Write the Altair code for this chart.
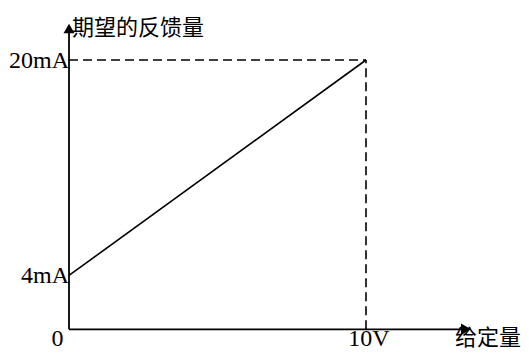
import altair as alt
import pandas as pd

# ---- data ----
line_x = [0, 10]          # 给定量 (V)
line_y = [4, 20]          # 期望的反馈量 (mA)
x_labels = ["0", "10V"]
x_label_vals = [0, 10]
y_labels = ["4mA", "20mA"]
y_label_vals = [4, 20]
x_end = 13.2              # x-axis arrow extent (V units)
y_end = 22.0              # y-axis arrow extent (mA units)
x_title = "给定量"
y_title = "期望的反馈量"

W, H = 513, 342
xs = alt.Scale(domain=[-2.0539, 15.2189], nice=False, zero=False)
ys = alt.Scale(domain=[-1.5373, 23.862], nice=False, zero=False)

def X(f="x"):
    return alt.X(f"{f}:Q", scale=xs, axis=None)

def Y(f="y"):
    return alt.Y(f"{f}:Q", scale=ys, axis=None)

axes_df = pd.DataFrame({
    "x": [0, 0], "x2": [x_end, 0],
    "y": [0, 0], "y2": [0, y_end],
})
axes = alt.Chart(axes_df).mark_rule(color="black", strokeWidth=1.8).encode(
    x=X(), x2="x2:Q", y=Y(), y2="y2:Q")

arrow_r = alt.Chart(pd.DataFrame({"x": [x_end], "y": [0]})).mark_point(
    shape="triangle-right", filled=True, color="black", size=135, opacity=1,
    xOffset=5).encode(x=X(), y=Y())
arrow_u = alt.Chart(pd.DataFrame({"x": [0], "y": [y_end]})).mark_point(
    shape="triangle-up", filled=True, color="black", size=121, opacity=1,
    yOffset=-4.5).encode(x=X(), y=Y())

line_df = pd.DataFrame({"x": line_x, "y": line_y})
main_line = alt.Chart(line_df).mark_line(color="black", strokeWidth=1.6).encode(
    x=X(), y=Y())

dash_df = pd.DataFrame({
    "x": [line_x[0], line_x[-1]], "x2": [line_x[-1], line_x[-1]],
    "y": [line_y[-1], 0], "y2": [line_y[-1], line_y[-1]],
})
dashes = alt.Chart(dash_df).mark_rule(color="black", strokeWidth=1.6,
                                      strokeDash=[9, 5]).encode(
    x=X(), x2="x2:Q", y=Y(), y2="y2:Q")

ylab_df = pd.DataFrame({"t": y_labels, "x": [0] * len(y_labels), "y": y_label_vals})
ylab = alt.Chart(ylab_df).mark_text(align="right", baseline="alphabetic",
                                    font="Liberation Serif", fontSize=24,
                                    color="black", dy=7.5).encode(
    x=X(), y=Y(), text="t:N")

xlab0 = alt.Chart(pd.DataFrame({"t": [x_labels[0]], "x": [x_label_vals[0]], "y": [0]})).mark_text(
    align="center", baseline="alphabetic", font="Liberation Serif", fontSize=24,
    color="black", dx=-11.5, dy=16.5).encode(x=X(), y=Y(), text="t:N")
xlab1 = alt.Chart(pd.DataFrame({"t": [x_labels[1]], "x": [x_label_vals[1]], "y": [0]})).mark_text(
    align="center", baseline="alphabetic", font="Liberation Serif", fontSize=24,
    color="black", dx=3, dy=16.5).encode(x=X(), y=Y(), text="t:N")

xt = alt.Chart(pd.DataFrame({"t": [x_title], "x": [x_end], "y": [0]})).mark_text(
    align="left", baseline="alphabetic", font="Noto Sans CJK SC", fontSize=22,
    color="black", dx=-6, dy=16).encode(x=X(), y=Y(), text="t:N")
yt = alt.Chart(pd.DataFrame({"t": [y_title], "x": [0], "y": [y_end]})).mark_text(
    align="left", baseline="alphabetic", font="Noto Sans CJK SC", fontSize=22,
    color="black", dx=3, dy=1.5).encode(x=X(), y=Y(), text="t:N")

chart = alt.layer(axes, dashes, main_line, arrow_r, arrow_u, ylab, xlab0, xlab1, xt, yt).properties(
    width=W, height=H, autosize=alt.AutoSizeParams(type="none"), padding=0,
    background="white"
).configure_view(stroke=None)

chart.save("out.html", embed_options={"renderer": "svg", "actions": False})
